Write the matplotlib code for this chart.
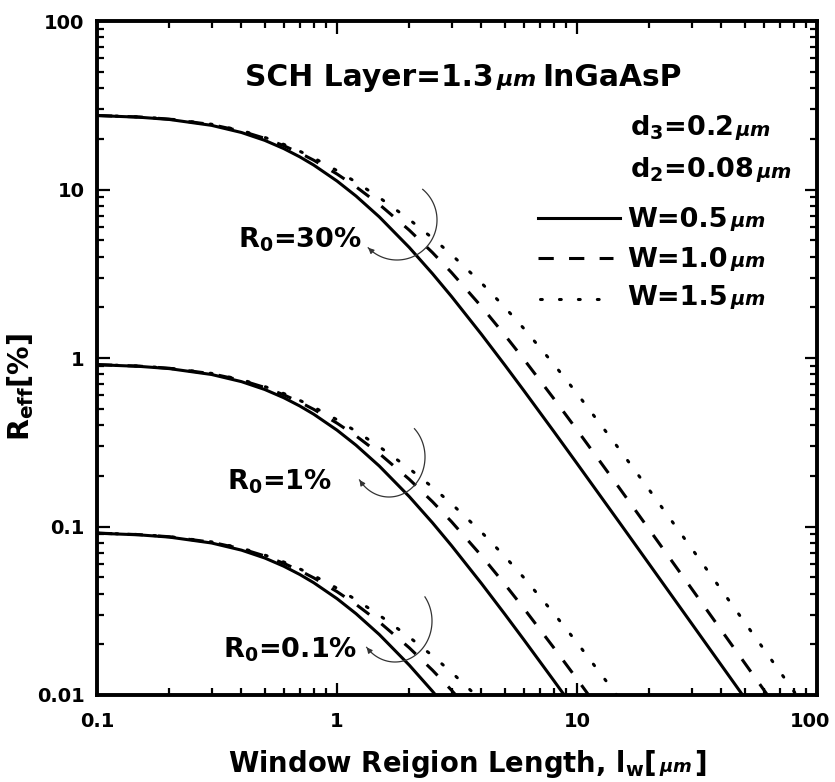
import numpy as np
import matplotlib
matplotlib.use("Agg")
import matplotlib.pyplot as plt
import matplotlib.transforms as mtrans
from matplotlib.ticker import FixedLocator, FixedFormatter, NullFormatter, LogLocator

plt.rcParams['font.family'] = ['DejaVu Sans', 'Noto Sans CJK KR']
plt.rcParams['font.weight'] = 'bold'
plt.rcParams['mathtext.fontset'] = 'dejavusans'

# ---------------- data ----------------
L_pts = [0.1, 0.15, 0.2, 0.3, 0.4, 0.5, 0.6, 0.7, 0.8, 1.0, 1.2, 1.5, 2, 2.5, 3,
         4, 5, 6, 8, 10, 15, 20, 30, 50, 70, 100]

# R0 = 30 %
solid_30 = [27.47, 26.85, 26.04, 24.03, 21.79, 19.57, 17.49, 15.62, 13.96, 11.23, 9.148,
            6.881, 4.531, 3.165, 2.318, 1.381, 0.9093, 0.6416, 0.3669, 0.2366, 0.1060,
            0.05978, 0.02662, 0.009593, 0.004896, 0.002399]
dash_30 = [27.51, 26.93, 26.17, 24.29, 22.20, 20.13, 18.20, 16.46, 14.92, 12.36, 10.38,
           8.163, 5.739, 4.222, 3.215, 2.017, 1.369, 0.9844, 0.5745, 0.3744, 0.1695,
           0.09595, 0.04285, 0.01546, 0.007894, 0.003870]
dot_30 = [27.52, 26.96, 26.22, 24.40, 22.38, 20.38, 18.53, 16.86, 15.38, 12.95, 11.06,
          8.965, 6.643, 5.146, 4.109, 2.786, 2.001, 1.498, 0.9194, 0.6161, 0.2878,
          0.1649, 0.07431, 0.02694, 0.01377, 0.006756]
# R0 = 1 %
solid_1 = [0.9126, 0.8920, 0.8651, 0.7983, 0.7239, 0.6502, 0.5811, 0.5189, 0.4638, 0.3731,
           0.3039, 0.2286, 0.1505, 0.1052, 0.07701, 0.04588, 0.03021, 0.02132, 0.01219,
           0.00786]
dash_1 = [0.9140, 0.8947, 0.8695, 0.8070, 0.7376, 0.6688, 0.6047, 0.5468, 0.4957, 0.4106,
          0.3449, 0.2712, 0.1907, 0.1403, 0.1068, 0.06701, 0.04548, 0.03271, 0.01909,
          0.01244, 0.005631]
dot_1 = [0.9143, 0.8957, 0.8711, 0.8106, 0.7435, 0.6771, 0.6156, 0.5601, 0.5110, 0.4302,
         0.3674, 0.2978, 0.2207, 0.1710, 0.1365, 0.09256, 0.06648, 0.04977, 0.03055,
         0.02047, 0.009561, 0.005478]
# R0 = 0.1 %
solid_01 = [0.09126, 0.0892, 0.08651, 0.07983, 0.07239, 0.06502, 0.05811, 0.05189, 0.04638,
            0.03731, 0.03039, 0.02286, 0.01505, 0.01052, 0.007701, 0.004588]
dash_01 = [0.0914, 0.08947, 0.08695, 0.0807, 0.07376, 0.06688, 0.06047, 0.05468, 0.04957,
           0.04106, 0.03449, 0.02712, 0.01907, 0.01403, 0.01068, 0.006701]
dot_01 = [0.09143, 0.08957, 0.08711, 0.08106, 0.07435, 0.06771, 0.06156, 0.05601, 0.0511,
          0.04302, 0.03674, 0.02978, 0.02207, 0.0171, 0.01365, 0.009256, 0.006648]

x_ticks = [0.1, 1, 10, 100]
x_tick_labels = ['0.1', '1', '10', '100']
y_ticks = [0.01, 0.1, 1, 10, 100]
y_tick_labels = ['0.01', '0.1', '1', '10', '100']

w_labels = ['W=0.5', 'W=1.0', 'W=1.5']
r0_labels = ['30%', '1%', '0.1%']

# ---------------- figure ----------------
W_PX, H_PX = 835, 782
fig = plt.figure(figsize=(W_PX / 100, H_PX / 100), dpi=100)
AX_L, AX_R, AX_T, AX_B = 97, 817, 21, 695
ax = fig.add_axes([AX_L / W_PX, (H_PX - AX_B) / H_PX, (AX_R - AX_L) / W_PX, (AX_B - AX_T) / H_PX])
ax.set_xscale('log')
ax.set_yscale('log')
ax.set_xlim(0.1, 100)
ax.set_ylim(0.01, 100)

LW = 2.2
sty = {
    'solid': dict(ls='-', lw=LW, color='black'),
    'dash': dict(ls=(0, (5, 5)), lw=LW, color='black'),
    'dot': dict(ls=(0, (0.6, 5.6)), lw=LW, color='black', dash_capstyle='round'),
}
groups = [(solid_30, dash_30, dot_30), (solid_1, dash_1, dot_1), (solid_01, dash_01, dot_01)]
for s, d, o in groups:
    ax.plot(L_pts[:len(o)], o, **sty['dot'])
    ax.plot(L_pts[:len(d)], d, **sty['dash'])
    ax.plot(L_pts[:len(s)], s, **sty['solid'])

# axes styling
for sp in ax.spines.values():
    sp.set_linewidth(2.8)
ax.xaxis.set_major_locator(FixedLocator(x_ticks))
ax.xaxis.set_major_formatter(FixedFormatter(x_tick_labels))
ax.yaxis.set_major_locator(FixedLocator(y_ticks))
ax.yaxis.set_major_formatter(FixedFormatter(y_tick_labels))
ax.xaxis.set_minor_locator(LogLocator(base=10, subs=np.arange(2, 10)))
ax.yaxis.set_minor_locator(LogLocator(base=10, subs=np.arange(2, 10)))
ax.xaxis.set_minor_formatter(NullFormatter())
ax.yaxis.set_minor_formatter(NullFormatter())
ax.tick_params(which='both', direction='in', top=True, right=True, width=1.6,
               labelsize=14, colors='black')
ax.tick_params(which='major', length=9)
ax.tick_params(which='minor', length=5)
ax.tick_params(axis='x', which='major', pad=12)
ax.tick_params(axis='y', which='major', pad=9)
xlabs = ax.get_xticklabels()
for lab in xlabs + ax.get_yticklabels():
    lab.set_fontweight('bold')
# pull the last x label a little inside the figure, as in the original
last = ax.xaxis.get_major_ticks()[-1].label1
last.set_transform(last.get_transform() + mtrans.ScaledTranslation(-7 / 100, 0, fig.dpi_scale_trans))


def fx(px):
    return (px - AX_L) / (AX_R - AX_L)


def fy(py):
    return (AX_B - py) / (AX_B - AX_T)


# legend line samples
for (x0, x1, yy), key in zip([(538, 620, 217.5), (538, 613, 257.5), (540, 613, 298.5)],
                             ['solid', 'dash', 'dot']):
    ax.plot([fx(x0), fx(x1)], [fy(yy), fy(yy)], transform=ax.transAxes, clip_on=False, **sty[key])

# curved arrows
arc_specs = [
    (397, 220, 40, 40, 50, -136),
    (389, 457, 36, 40, 45, -145),
    (395, 621, 37, 41, 36, -140),
]
for cx, cy, rx, ry, t0, t1 in arc_specs:
    t = np.radians(np.linspace(t0, t1, 120))
    px = cx + rx * np.cos(t)
    py = cy - ry * np.sin(t)
    ax.plot(fx(px), fy(py), transform=ax.transAxes, color='#333333', lw=0.9, clip_on=False)
    ax.annotate('', xy=(fx(px[-1]), fy(py[-1])), xytext=(fx(px[-4]), fy(py[-4])),
                xycoords='axes fraction', textcoords='axes fraction',
                arrowprops=dict(arrowstyle='-|>', color='#333333', lw=0.9,
                                mutation_scale=8, shrinkA=0, shrinkB=0))

# ---------------- texts ----------------
renderer = fig.canvas.get_renderer()
UNIT = '$\\mathit{\\mu m}$'


def place(parts, x, y_ref):
    y = H_PX - y_ref
    for s, kw, gap in parts:
        t = fig.text(x / W_PX, y / H_PX, s, ha='left', va='baseline', **kw)
        bb = t.get_window_extent(renderer)
        x = bb.x1 + gap


title_kw = dict(fontsize=21.4, fontweight='bold', family='DejaVu Sans')
leg = dict(fontsize=19.5, fontweight='bold', family='DejaVu Sans')


def unit(size):
    return dict(fontsize=size, fontweight='normal', family='DejaVu Sans')


place([('SCH Layer=1.3', title_kw, 2), (UNIT, unit(16), 6), ('InGaAsP', title_kw, 0)], 245, 86.5)
place([('d$_\\mathbf{3}$=0.2', leg, 2), (UNIT, unit(14), 0)], 630, 136)
place([('d$_\\mathbf{2}$=0.08', leg, 2), (UNIT, unit(14), 0)], 630, 178)
for lab, yb in zip(w_labels, [227, 267, 305]):
    place([(lab, leg, 2), (UNIT, unit(14), 0)], 627, yb)

for lab, (xx, yb) in zip(r0_labels, [(238, 248), (227, 489), (223, 657)]):
    place([('R$_\\mathbf{0}$=' + lab, leg, 0)], xx, yb)

xl = dict(fontsize=19.8, fontweight='bold', family='DejaVu Sans')
place([('Window Reigion Length, l$_\\mathbf{w}$[', xl, 3), (UNIT, unit(13), 1), (']', xl, 0)], 228, 772)

fig.text(21 / W_PX, (H_PX - 387) / H_PX, 'R$_\\mathbf{eff}$[%]', rotation=90,
         ha='center', va='center', fontsize=20.5, fontweight='bold', family='DejaVu Sans')

fig.savefig('out.png', dpi=100)
